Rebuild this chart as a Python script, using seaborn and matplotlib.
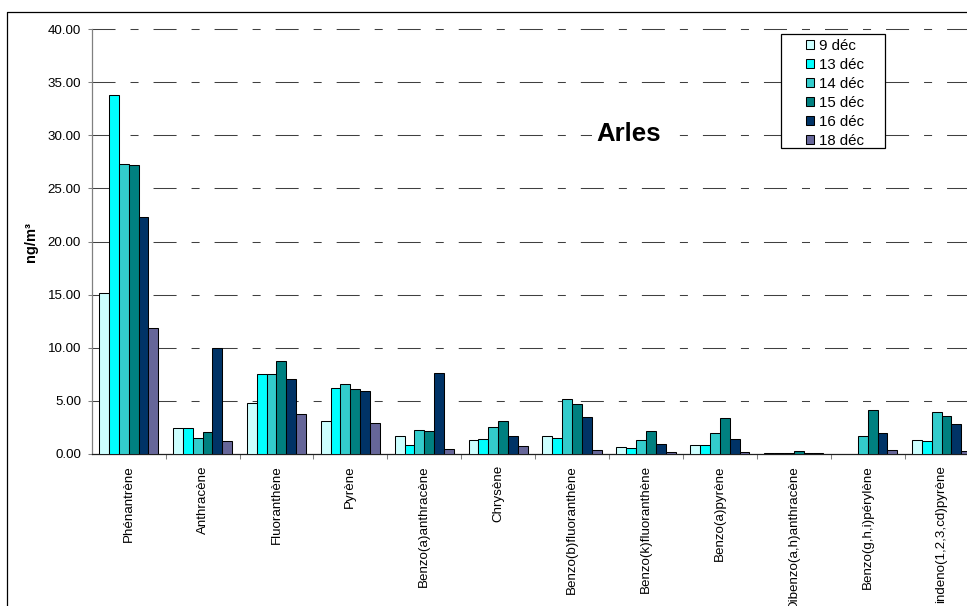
import matplotlib
matplotlib.use("Agg")
import matplotlib.pyplot as plt
from matplotlib.patches import Rectangle, Patch
from matplotlib.lines import Line2D
from matplotlib.ticker import FixedLocator, FormatStrFormatter
import numpy as np
import pandas as pd
import seaborn as sns

# PAH concentrations measured at Arles (ng/m3)
compounds = ["Phénantrène", "Anthracène", "Fluoranthène", "Pyrène",
             "Benzo(a)anthracène", "Chrysène", "Benzo(b)fluoranthène",
             "Benzo(k)fluoranthène", "Benzo(a)pyrène", "Dibenzo(a,h)anthracène",
             "Benzo(g,h,i)pérylène", "indeno(1,2,3,cd)pyrène"]
dates = ["9 déc", "13 déc", "14 déc", "15 déc", "16 déc", "18 déc"]

dec09 = [15.18, 2.48, 4.83, 3.14, 1.66, 1.28, 1.69, 0.63, 0.85, 0.10, np.nan, 1.32]
dec13 = [33.79, 2.42, 7.53, 6.24, 0.85, 1.44, 1.50, 0.56, 0.81, 0.08, np.nan, 1.22]
dec14 = [27.26, 1.48, 7.53, 6.62, 2.26, 2.57, 5.17, 1.32, 2.00, 0.12, 1.69, 3.95]
dec15 = [27.17, 2.04, 8.78, 6.09, 2.19, 3.10, 4.67, 2.16, 3.35, 0.25, 4.14, 3.58]
dec16 = [22.30, 9.95, 7.06, 5.90, 7.62, 1.66, 3.45, 0.91, 1.44, 0.12, 1.97, 2.85]
dec18 = [11.86, 1.22, 3.80, 2.89, 0.45, 0.72, 0.38, 0.20, 0.22, 0.08, 0.38, 0.30]

palette = ["#CCFFFF", "#00FFFF", "#33CCCC", "#008080", "#003366", "#666699"]
y_ticks = [0, 5, 10, 15, 20, 25, 30, 35, 40]

series = [dec09, dec13, dec14, dec15, dec16, dec18]
df = pd.DataFrame({
    "compound": np.tile(compounds, len(dates)),
    "date": np.repeat(dates, len(compounds)),
    "value": np.concatenate(series),
})

plt.rcParams["font.family"] = ["Liberation Sans", "DejaVu Sans"]

W, H = 967, 606
fig = plt.figure(figsize=(W / 100, H / 100), dpi=100)
fig.patch.set_facecolor("white")

# plot area in pixels: left 91.7, top 29, bottom 454, right beyond the canvas
ax = fig.add_axes([91.7 / W, (H - 454) / H, 886.8 / W, 425 / H])

sns.barplot(data=df, x="compound", y="value", hue="date", order=compounds,
            hue_order=dates, palette=palette, saturation=1, edgecolor="black",
            linewidth=0.75, width=0.8, errorbar=None, legend=False, ax=ax, zorder=3)

ax.set_xlim(-0.5, len(compounds) - 0.5)
ax.set_ylim(0, 40)
ax.set_yticks(y_ticks)
ax.yaxis.set_major_formatter(FormatStrFormatter("%.2f"))
ax.tick_params(axis="y", labelsize=9.6, length=3.2, width=0.75, color="#808080", pad=4.5)

ax.set_xlabel("")
ax.set_ylabel("ng/m³", fontsize=10.5, fontweight="bold", labelpad=7)
ax.tick_params(axis="x", which="major", length=0, labelsize=9.6, pad=8, rotation=90)
for lab in ax.get_xticklabels():
    lab.set_verticalalignment("top")
ax.xaxis.set_minor_locator(FixedLocator(np.arange(0.5, len(compounds), 1.0)))
ax.tick_params(axis="x", which="minor", length=3.5, width=0.75, color="#808080")

# dashed horizontal gridlines (long dash, short dash)
ax.grid(False)
for yv in y_ticks[1:]:
    gl = ax.axhline(yv, color="#404040", linewidth=0.75, zorder=1)
    gl.set_dashes([22.1, 14.4, 7.7, 14.4])
    gl.set_clip_on(False)

for side in ["top", "right"]:
    ax.spines[side].set_visible(False)
ax.spines["left"].set_color("#808080")
ax.spines["left"].set_linewidth(0.9)
ax.spines["bottom"].set_color("#202020")
ax.spines["bottom"].set_linewidth(0.9)
ax.set_facecolor("white")

# station name
ax.text(629 / 100, (H - 134) / 100, "Arles", transform=fig.dpi_scale_trans,
        fontsize=18.5, fontweight="bold", ha="center", va="center", zorder=6,
        bbox=dict(boxstyle="square,pad=0.2", fc="white", ec="none"))

# legend box
ax.add_patch(Rectangle((780.7 / 100, (H - 148.3) / 100), 104.3 / 100, 114 / 100,
                       transform=fig.dpi_scale_trans, fc="white", ec="black",
                       lw=0.9, zorder=5, clip_on=False))
handles = [Patch(facecolor=c, edgecolor="black", linewidth=0.75) for c in palette]
leg = ax.legend(handles, dates, loc="upper left",
                bbox_to_anchor=(794 / W, (H - 27) / H), bbox_transform=fig.transFigure,
                frameon=False, fontsize=10.8, handlelength=0.55, handleheight=0.55,
                handletextpad=0.3, labelspacing=0.33, borderpad=0.3)
leg.set_zorder(7)

# chart frame
fig.add_artist(Line2D([7.3 / W, 7.3 / W, 1.0], [0.0, 1 - 11.7 / H, 1 - 11.7 / H],
                      transform=fig.transFigure, color="black", lw=0.9))

fig.savefig("out.png", dpi=100, facecolor="white")
